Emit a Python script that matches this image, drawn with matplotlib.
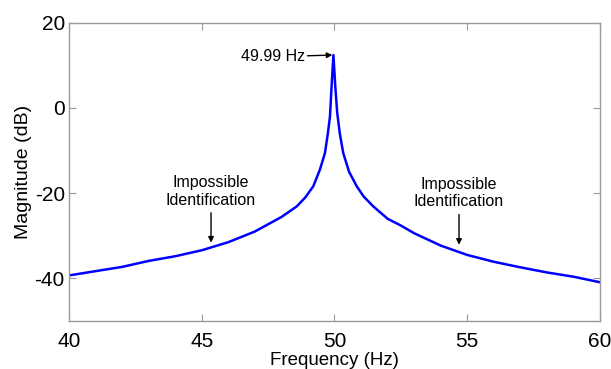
import matplotlib
matplotlib.use("Agg")
import matplotlib.pyplot as plt

# magnitude response
freq = [40, 41, 42, 43, 44, 45, 46, 47, 47.5, 48, 48.58, 48.9, 49.2, 49.45, 49.64, 49.75, 49.83, 49.89,
        49.96,
        50.03, 50.1, 50.2, 50.33, 50.55, 50.84, 51.1, 51.46, 52, 52.5, 53, 54, 55, 56, 57, 58, 59, 60]
mag = [-39.3, -38.3, -37.3, -35.9, -34.8, -33.4, -31.5, -29.0, -27.3, -25.6, -23.1, -21.0, -18.4, -14.5, -10.6, -6.0, -2.0, 5.0,
       12.4,
       5.0, -1.0, -6.0, -10.6, -15.0, -18.4, -20.8, -23.1, -26.0, -27.6, -29.4, -32.3, -34.5, -36.1, -37.4, -38.6, -39.6, -40.9]

xticks = [40, 45, 50, 55, 60]
yticks = [-40, -20, 0, 20]
peak_label = "49.99 Hz"
note = "Impossible\nIdentification"

font = "Liberation Sans"

fig = plt.figure(figsize=(6.11, 3.69), dpi=100)
ax = fig.add_axes([0.1129, 0.130, 0.8691, 0.8086])

ax.plot(freq, mag, color="#0000ff", lw=1.8)

ax.set_xlim(40, 60)
ax.set_ylim(-50, 20)
ax.set_xticks(xticks)
ax.set_yticks(yticks)
ax.set_xticklabels([str(t) for t in xticks], family=font, fontsize=15)
ax.set_yticklabels([str(t) for t in yticks], family=font, fontsize=15)
ax.tick_params(direction="in", length=5, width=0.8, color="#999999",
               top=True, right=True, pad=3)
ax.tick_params(axis="x", pad=8)
for s in ax.spines.values():
    s.set_color("#999999")
    s.set_linewidth(1.0)

ax.set_ylabel("Magnitude (dB)", family=font, fontsize=14, labelpad=2)
ax.set_xlabel("Frequency (Hz)", family=font, fontsize=13.5, labelpad=0.5)

ax.annotate(peak_label, xy=(49.92, 12.4), xytext=(48.88, 12.0),
            ha="right", va="center", family=font, fontsize=11.5,
            arrowprops=dict(arrowstyle="-|>", color="black", lw=1, shrinkA=0, shrinkB=0,
                            mutation_scale=8))

for fx, tip, start in [(45.35, -31.6, -24.6), (54.69, -32.1, -25.0)]:
    ax.annotate("", xy=(fx, tip), xytext=(fx, start),
                arrowprops=dict(arrowstyle="-|>", color="black", lw=1, shrinkA=0, shrinkB=0,
                                mutation_scale=8))
    ax.text(fx, start + 1.2, note, ha="center", va="bottom", family=font,
            fontsize=11.5, linespacing=1.2)

fig.savefig("out.png", dpi=100)
